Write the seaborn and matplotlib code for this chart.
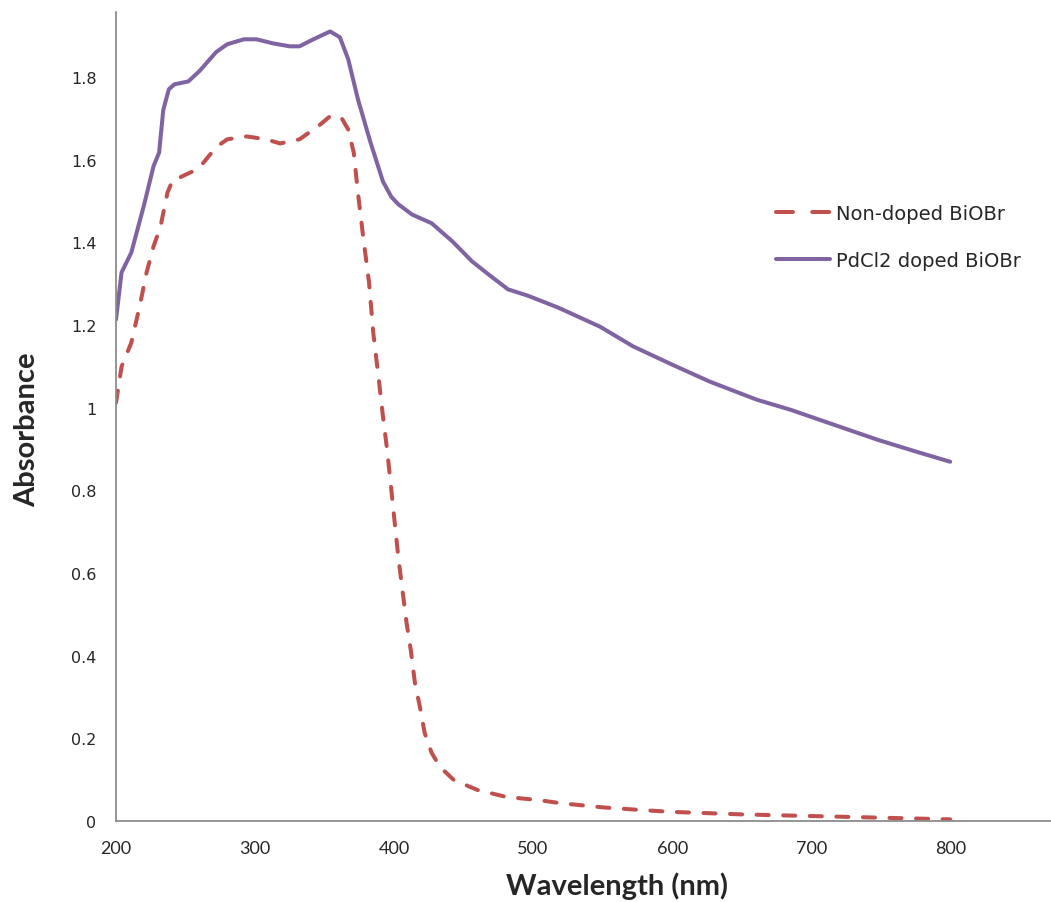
import matplotlib
matplotlib.use("Agg")
import matplotlib.pyplot as plt
import seaborn as sns
import pandas as pd

# UV-Vis absorbance spectra
pdcl2_nm = [200, 204, 211, 220, 227, 231, 234, 238, 242, 252, 260, 272, 280, 292,
            301, 313, 325, 332, 342, 354, 361, 367, 374, 383, 392, 398, 403, 413, 427,
            442, 456, 468, 482, 496, 518, 548, 572, 600, 627, 661, 685, 716, 748,
            776, 800]
pdcl2_abs = [1.213, 1.327, 1.375, 1.488, 1.584, 1.617, 1.720, 1.770, 1.782, 1.789,
             1.814, 1.860, 1.879, 1.891, 1.891, 1.881, 1.874, 1.874, 1.891, 1.910,
             1.896, 1.843, 1.746, 1.642, 1.547, 1.510, 1.492, 1.467, 1.446, 1.402,
             1.354, 1.322, 1.286, 1.271, 1.242, 1.196, 1.148, 1.104, 1.063, 1.019,
             0.995, 0.959, 0.922, 0.893, 0.869]

plain_nm = [200, 204, 211, 217, 222, 227, 232, 237, 241, 246, 258, 263, 272, 280,
            294, 308, 318, 332, 337, 347, 354, 362, 367, 371, 374, 378, 382, 385,
            389, 392, 395, 397, 400, 403, 406, 409, 412, 415, 419, 422, 427, 433,
            443, 460, 481, 503, 520, 550, 580, 600, 650, 700, 750, 800]
plain_abs = [1.012, 1.099, 1.157, 1.245, 1.327, 1.390, 1.438, 1.520, 1.552, 1.557,
             1.576, 1.593, 1.630, 1.649, 1.656, 1.649, 1.639, 1.649, 1.661, 1.685,
             1.705, 1.702, 1.673, 1.617, 1.520, 1.407, 1.303, 1.182, 1.068, 0.979,
             0.898, 0.834, 0.737, 0.640, 0.559, 0.479, 0.414, 0.334, 0.269, 0.213,
             0.165, 0.131, 0.099, 0.075, 0.058, 0.051, 0.043, 0.033, 0.026, 0.022,
             0.016, 0.012, 0.008, 0.004]

series_names = ["Non-doped BiOBr", "PdCl2 doped BiOBr"]
x_ticks = [200, 300, 400, 500, 600, 700, 800]
y_ticks = [0, 0.2, 0.4, 0.6, 0.8, 1.0, 1.2, 1.4, 1.6, 1.8]
y_tick_labels = ["0", "0.2", "0.4", "0.6", "0.8", "1", "1.2", "1.4", "1.6", "1.8"]

df = pd.concat([
    pd.DataFrame({"nm": plain_nm, "abs": plain_abs, "sample": series_names[0]}),
    pd.DataFrame({"nm": pdcl2_nm, "abs": pdcl2_abs, "sample": series_names[1]}),
])

sns.set_style("white")
plt.rcParams["font.family"] = ["DejaVu Sans"]

fig = plt.figure(figsize=(10.51, 9.03), dpi=100)
ax = fig.add_axes([116 / 1051, 81 / 903, 935 / 1051, 809 / 903])

palette = {series_names[0]: "#C0504D", series_names[1]: "#8064A2"}
dashes = {series_names[0]: (3.0, 3.6), series_names[1]: ""}
sns.lineplot(data=df, x="nm", y="abs", hue="sample", style="sample",
             palette=palette, dashes=dashes, linewidth=2.9, sort=False,
             estimator=None, ax=ax)
for line in ax.lines:
    line.set_dash_capstyle("round")
    line.set_solid_capstyle("round")
    line.set_solid_joinstyle("round")

ax.set_xlim(200, 872.5)
ax.set_ylim(0, 1.957)
ax.set_xticks(x_ticks)
ax.set_yticks(y_ticks)
ax.set_yticklabels(y_tick_labels)
ax.tick_params(axis="both", length=0)
ax.tick_params(axis="y", pad=14, labelsize=11.5)
ax.tick_params(axis="x", pad=14)
for lbl in ax.get_xticklabels():
    lbl.set_fontfamily("Lato")
    lbl.set_fontsize(13)

for side in ["top", "right"]:
    ax.spines[side].set_visible(False)
for side in ["left", "bottom"]:
    ax.spines[side].set_color("#8C8C8C")
    ax.spines[side].set_linewidth(1.3)

ax.set_xlabel("Wavelength (nm)", fontfamily="Lato", fontweight="bold", fontsize=21)
ax.set_ylabel("Absorbance", fontfamily="Lato", fontweight="bold", fontsize=21)
ax.xaxis.set_label_coords(0.536, -0.062)
ax.yaxis.set_label_coords(-0.081, 0.485)

leg = ax.legend(loc="upper left", bbox_to_anchor=(776 / 1051, 1 - 205 / 903),
                bbox_transform=fig.transFigure, frameon=False, borderpad=0,
                borderaxespad=0, handlelength=2.8, handletextpad=0.3,
                labelspacing=1.45, fontsize=14)
for h in leg.get_lines():
    h.set_linewidth(2.9)
    h.set_dash_capstyle("round")
    h.set_solid_capstyle("round")
# two even dashes across the dashed legend key
leg.get_lines()[0].set_dashes((4.2, 4.8))

fig.savefig("out.png", dpi=100)
